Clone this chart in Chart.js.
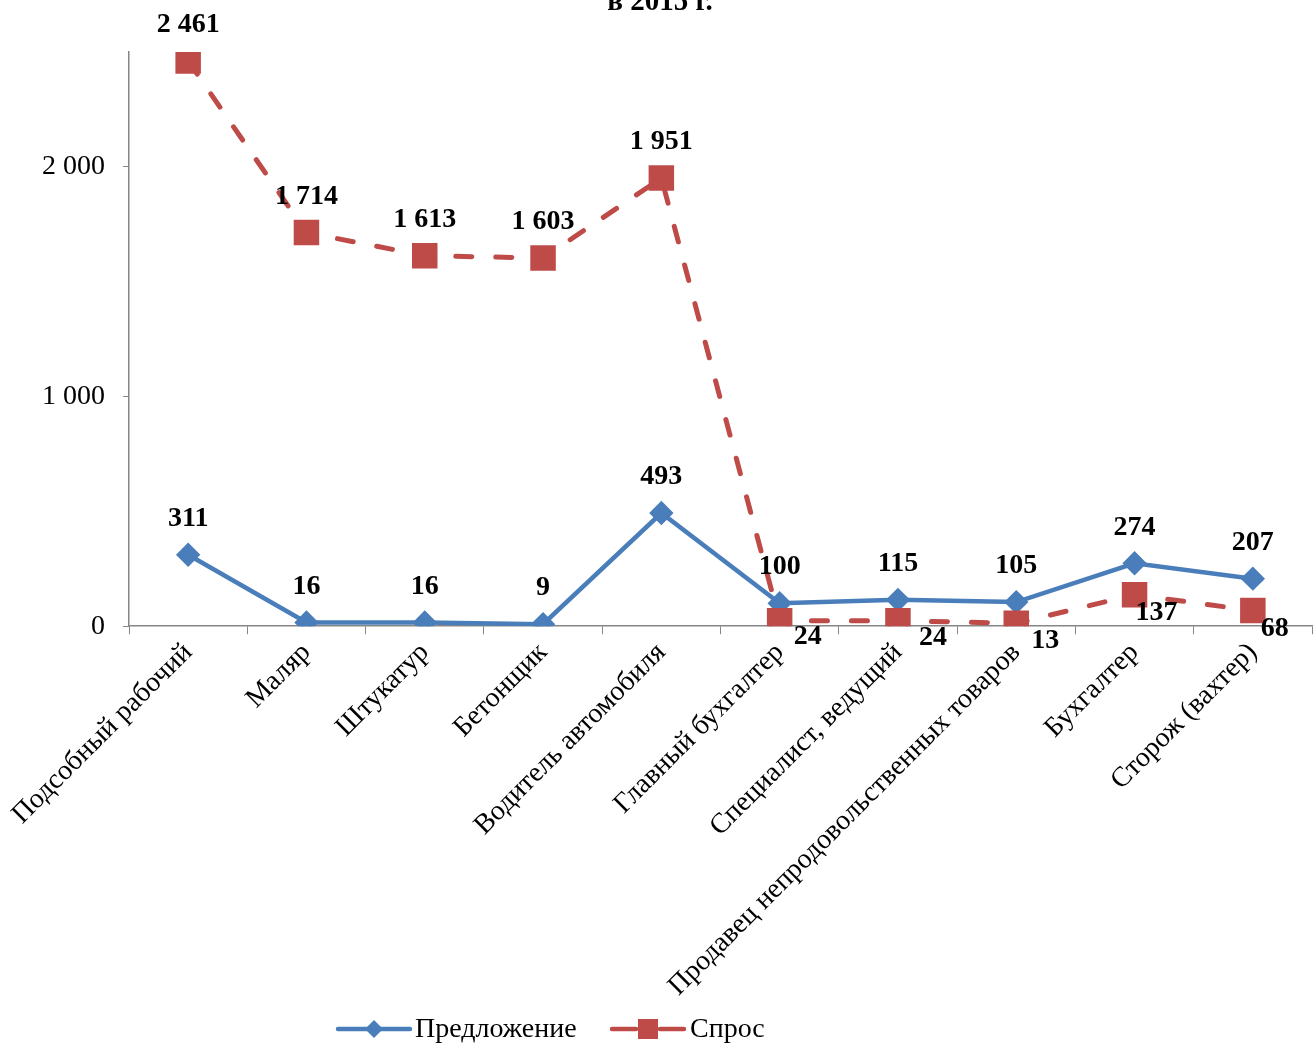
<!DOCTYPE html>
<html>
<head>
<meta charset="utf-8">
<script src="https://cdn.jsdelivr.net/npm/chart.js@4"></script>
<style>
html, body { margin: 0; background: #fff; overflow: hidden; }
#wrap { position: relative; width: 1316px; height: 1046px; }
canvas { display: block; }
</style>
</head>
<body>
<div id="wrap"><canvas id="chart"></canvas></div>
<script>
const categories = ["Подсобный рабочий", "Маляр", "Штукатур", "Бетонщик", "Водитель автомобиля",
  "Главный бухгалтер", "Специалист, ведущий", "Продавец непродовольственных товаров", "Бухгалтер", "Сторож (вахтер)"];
const supply = [311, 16, 16, 9, 493, 100, 115, 105, 274, 207];
const demand = [2461, 1714, 1613, 1603, 1951, 24, 24, 13, 137, 68];
const yTicks = [0, 1000, 2000];
const seriesNames = ["Предложение", "Спрос"];
const titleText = "в 2015 г.";

const blue = "#4A7EBB";
const red = "#BE4B48";
const serif = "'Liberation Serif', 'Times New Roman', serif";

// where demand labels sit: above the point, or below-right of it
const demandLabelShift = [[0,-36],[0,-36],[0,-36],[0,-36],[0,-36],[28,16],[35,17],[29,18],[22,18],[22,18]];

function fmt(v) {
  return String(v).replace(/\B(?=(\d{3})+(?!\d))/g, " ");
}

function drawIcon(g, x, y, color, marker) {
  g.save();
  g.strokeStyle = color; g.fillStyle = color;
  g.lineWidth = 4.5; g.lineCap = "round";
  g.beginPath();
  if (marker === "diamond") {
    g.moveTo(x, y); g.lineTo(x + 72, y);
  } else {
    g.moveTo(x, y); g.lineTo(x + 24, y);
    g.moveTo(x + 48, y); g.lineTo(x + 72, y);
  }
  g.stroke();
  if (marker === "diamond") {
    g.beginPath();
    g.moveTo(x + 36, y - 9); g.lineTo(x + 45, y); g.lineTo(x + 36, y + 9); g.lineTo(x + 27, y);
    g.closePath(); g.fill();
  } else {
    g.fillRect(x + 26, y - 10, 20, 20);
  }
  g.restore();
}

const labelPlugin = {
  id: "labels",
  afterDatasetsDraw(chart) {
    const ctx = chart.ctx;
    ctx.save();
    ctx.fillStyle = "#000";
    ctx.font = "bold 28px " + serif;
    ctx.textAlign = "center";
    ctx.textBaseline = "middle";
    chart.getDatasetMeta(0).data.forEach((p, i) => {
      ctx.fillText(fmt(supply[i]), p.x, p.y - 36);
    });
    chart.getDatasetMeta(1).data.forEach((p, i) => {
      const s = demandLabelShift[i];
      ctx.fillText(fmt(demand[i]), p.x + s[0], p.y + s[1]);
    });
    // title, mostly cut off by the top edge
    ctx.font = "bold 29px " + serif;
    ctx.textBaseline = "alphabetic";
    ctx.fillText(titleText, 660, 10);

    // legend
    ctx.font = "28px " + serif;
    ctx.textAlign = "left";
    ctx.textBaseline = "middle";
    drawIcon(ctx, 338, 1029, blue, "diamond");
    ctx.fillText(seriesNames[0], 415, 1030);
    drawIcon(ctx, 612, 1029, red, "square");
    ctx.fillText(seriesNames[1], 690, 1030);
    ctx.restore();
  }
};

new Chart(document.getElementById("chart"), {
  type: "line",
  data: {
    labels: categories,
    datasets: [
      {
        label: seriesNames[0],
        data: supply,
        order: 1,
        borderColor: blue,
        backgroundColor: blue,
        borderWidth: 4.5,
        pointStyle: "rectRot",
        pointRadius: 9,
        pointHoverRadius: 9,
        tension: 0
      },
      {
        label: seriesNames[1],
        data: demand,
        order: 0,
        borderColor: red,
        backgroundColor: red,
        borderWidth: 5,
        borderDash: [16, 24],
        borderCapStyle: "round",
        pointStyle: "rect",
        pointRadius: 14.5,
        pointHoverRadius: 14.5,
        tension: 0
      }
    ]
  },
  options: {
    responsive: true,
    maintainAspectRatio: false,
    animation: false,
    layout: { autoPadding: false, padding: { left: 24, right: 4, top: 52, bottom: 41 } },
    plugins: {
      title: { display: false },
      tooltip: { enabled: false },
      legend: { display: false }
    },
    scales: {
      x: {
        offset: true,
        border: { color: "#868686", width: 1.5 },
        grid: { offset: true, drawOnChartArea: false, drawTicks: true, tickLength: 8, color: "#868686" },
        afterFit(scale) {
          scale.paddingRight = 0;
        },
        ticks: {
          color: "#000",
          font: { family: serif, size: 28 },
          minRotation: 45,
          maxRotation: 45,
          autoSkip: false,
          padding: 2
        }
      },
      y: {
        min: 0,
        max: 2500,
        border: { color: "#868686", width: 1.5 },
        grid: { drawOnChartArea: false, drawTicks: true, tickLength: 6, color: "#868686" },
        afterBuildTicks(scale) {
          scale.ticks = yTicks.map(v => ({ value: v }));
        },
        ticks: {
          color: "#000",
          font: { family: serif, size: 28 },
          padding: 18,
          callback: v => fmt(v)
        }
      }
    }
  },
  plugins: [labelPlugin]
});
</script>
</body>
</html>
